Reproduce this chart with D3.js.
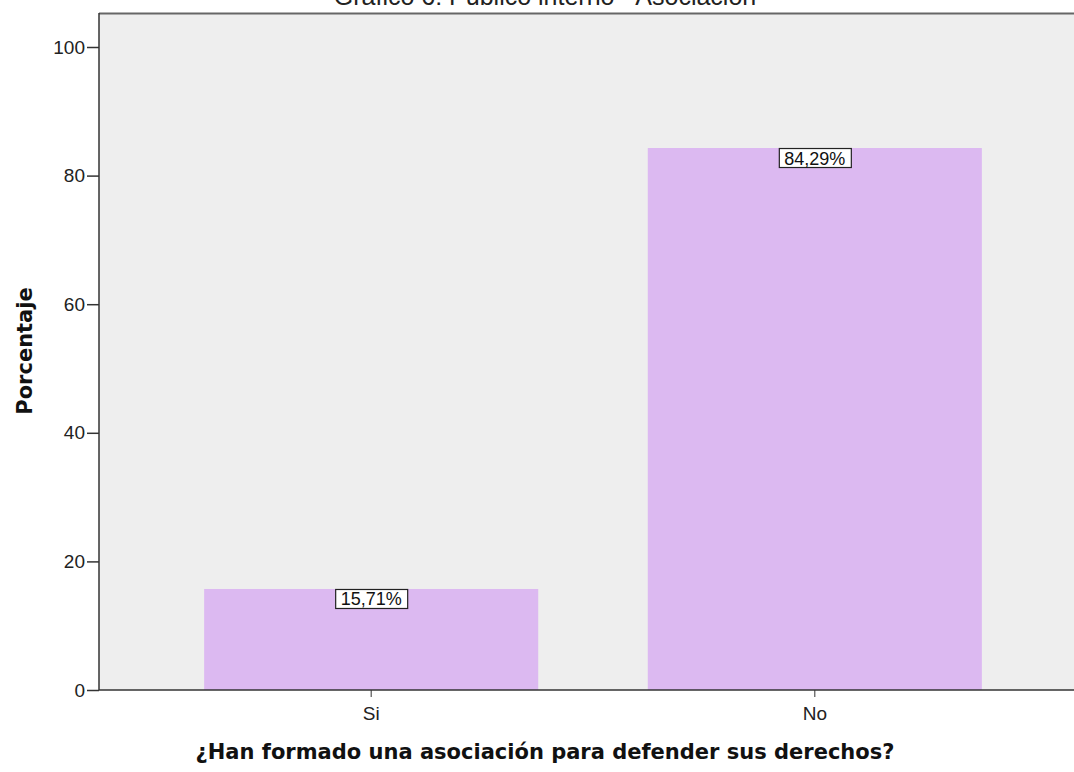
<!DOCTYPE html>
<html>
<head>
<meta charset="utf-8">
<script src="https://cdn.jsdelivr.net/npm/d3@7"></script>
<style>
  body { margin: 0; background: #fff; }
  svg { display: block; font-family: "Liberation Sans", Arial, sans-serif; }
</style>
</head>
<body>
<script>
var categories = ['Si', 'No'];
var values = [15.71, 84.29];
var labels = ['15,71%', '84,29%'];
var yTicks = [0, 20, 40, 60, 80, 100];

var w = 1074;
var h = 772;

// plot frame
var mLeft = 99, mTop = 13, mBottom = 690;

var svg = d3.select('body').append('svg')
  .attr('width', w)
  .attr('height', h);

var x = d3.scaleBand()
  .domain(categories)
  .range([mLeft, 1087])
  .paddingInner(0.247)
  .paddingOuter(0.237);

var y = d3.scaleLinear()
  .domain([0, 100])
  .range([mBottom, 47]);

// plot background
svg.append('rect')
  .attr('x', mLeft)
  .attr('y', mTop)
  .attr('width', w - mLeft)
  .attr('height', mBottom - mTop)
  .attr('fill', '#eeeeee');

svg.append('line')
  .attr('x1', mLeft).attr('x2', w)
  .attr('y1', mTop + 0.5).attr('y2', mTop + 0.5)
  .attr('stroke', '#666')
  .attr('stroke-width', 2);

// title (cut off at the top, as in the original)
svg.append('text')
  .attr('x', 545)
  .attr('y', 5)
  .attr('text-anchor', 'middle')
  .attr('font-size', 25)
  .attr('fill', '#222')
  .text('Gráfico 6: Público interno - Asociación');

// bars
svg.selectAll('.bar')
  .data(values)
  .enter().append('rect')
  .attr('class', 'bar')
  .attr('x', (d, i) => x(categories[i]))
  .attr('y', d => y(d))
  .attr('width', x.bandwidth())
  .attr('height', d => mBottom - y(d))
  .attr('fill', '#dcb9f1');

// value labels
var lab = svg.selectAll('.lab')
  .data(values)
  .enter().append('g')
  .attr('class', 'lab')
  .attr('transform', (d, i) => `translate(${x(categories[i]) + x.bandwidth() / 2},${y(d)})`);

lab.append('rect')
  .attr('x', -35.5)
  .attr('y', 0.5)
  .attr('width', 72)
  .attr('height', 19)
  .attr('fill', '#fff')
  .attr('stroke', '#222')
  .attr('stroke-width', 1.2);

lab.append('text')
  .attr('x', 0)
  .attr('y', 16.5)
  .attr('text-anchor', 'middle')
  .attr('font-size', 18)
  .attr('fill', '#111')
  .text((d, i) => labels[i]);

// y axis
var yAxis = svg.append('g')
  .attr('transform', `translate(${mLeft},0)`)
  .call(d3.axisLeft(y).tickValues(yTicks).tickSize(12).tickPadding(2));
yAxis.select('.domain').remove();
yAxis.append('line')
  .attr('x1', 0).attr('x2', 0)
  .attr('y1', mTop).attr('y2', mBottom)
  .attr('stroke', '#333').attr('stroke-width', 1.5);
yAxis.selectAll('.tick line').attr('stroke', '#333').attr('stroke-width', 1.5);
yAxis.selectAll('.tick text')
  .attr('font-size', 19)
  .attr('font-family', '"Liberation Sans", Arial, sans-serif')
  .attr('fill', '#222');

// x axis
var xAxis = svg.append('g')
  .attr('transform', `translate(0,${mBottom})`)
  .call(d3.axisBottom(x).tickSize(7).tickPadding(10));
xAxis.select('.domain').remove();
xAxis.append('line')
  .attr('x1', mLeft).attr('x2', w)
  .attr('y1', 0).attr('y2', 0)
  .attr('stroke', '#333').attr('stroke-width', 1.5);
xAxis.selectAll('.tick line').attr('stroke', '#333');
xAxis.selectAll('.tick text')
  .attr('font-size', 19)
  .attr('font-family', '"Liberation Sans", Arial, sans-serif')
  .attr('fill', '#222');

// axis titles
svg.append('text')
  .attr('transform', 'translate(32,351) rotate(-90)')
  .attr('text-anchor', 'middle')
  .attr('font-family', '"DejaVu Sans", sans-serif')
  .attr('font-size', 21)
  .attr('font-weight', 'bold')
  .attr('fill', '#111')
  .text('Porcentaje');

svg.append('text')
  .attr('x', 545)
  .attr('y', 759)
  .attr('text-anchor', 'middle')
  .attr('font-family', '"DejaVu Sans", sans-serif')
  .attr('font-size', 21)
  .attr('font-weight', 'bold')
  .attr('fill', '#111')
  .text('¿Han formado una asociación para defender sus derechos?');
</script>
</body>
</html>
